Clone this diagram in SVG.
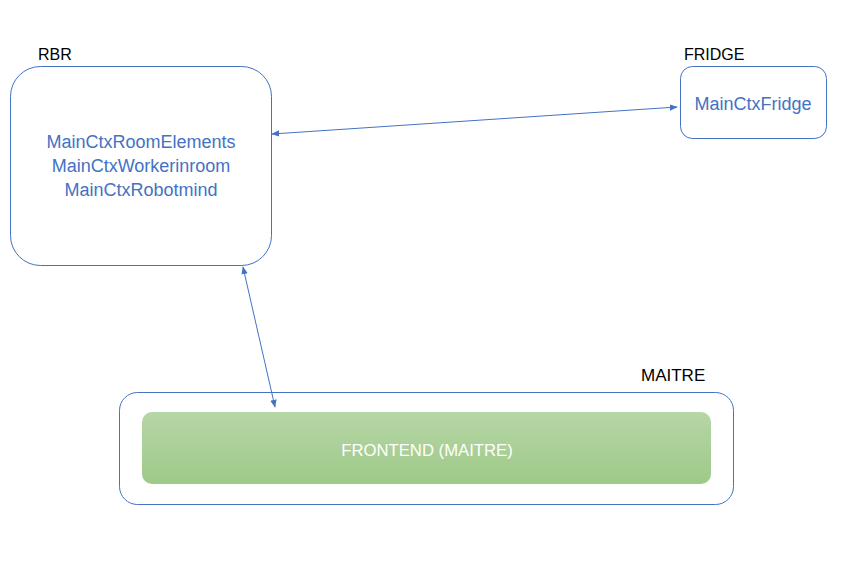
<svg xmlns="http://www.w3.org/2000/svg" width="866" height="563" viewBox="0 0 866 563">
<style>
.box{fill:#fff;stroke:#4472c4;stroke-width:1}
.lbl{font-family:"Liberation Sans",Arial,sans-serif;font-size:16px;fill:#000}
.ctx{font-family:"Liberation Sans",Arial,sans-serif;font-size:18px;fill:#4472c4;text-anchor:middle}
.conn{stroke:#4472c4;stroke-width:1;fill:none;marker-start:url(#ah);marker-end:url(#ah)}
</style>
<defs>
<marker id="ah" viewBox="0 0 10 10" refX="9" refY="5" markerWidth="8" markerHeight="8" orient="auto-start-reverse" markerUnits="userSpaceOnUse">
<path d="M0,1 L10,5 L0,9 Z" fill="#4472c4"/>
</marker>
<linearGradient id="g" x1="0" y1="0" x2="0" y2="1">
<stop offset="0" stop-color="#b6d6a6"/>
<stop offset="1" stop-color="#9ec988"/>
</linearGradient>
</defs>
<rect width="866" height="563" fill="#fff"/>
<g id="rbr">
<text class="lbl" x="38" y="60">RBR</text>
<rect class="box" x="10.5" y="66.5" width="261" height="199" rx="30"/>
<text class="ctx" x="141" y="148">MainCtxRoomElements</text>
<text class="ctx" x="141" y="172">MainCtxWorkerinroom</text>
<text class="ctx" x="141" y="196">MainCtxRobotmind</text>
</g>
<g id="fridge">
<text class="lbl" x="684" y="60">FRIDGE</text>
<rect class="box" x="680.5" y="66.5" width="146" height="72" rx="12"/>
<text class="ctx" x="753" y="110">MainCtxFridge</text>
</g>
<g id="maitre">
<text class="lbl" x="641" y="381" style="font-size:17px">MAITRE</text>
<rect class="box" x="119.5" y="392.5" width="614" height="112" rx="18"/>
<rect x="142" y="412" width="569" height="72" rx="10" fill="url(#g)"/>
<text x="427" y="456" font-family="Liberation Sans,Arial,sans-serif" font-size="16.7" fill="#fff" text-anchor="middle">FRONTEND (MAITRE)</text>
</g>
<g id="connectors">
<line class="conn" x1="272" y1="134" x2="677" y2="107"/>
<line class="conn" x1="243" y1="267" x2="275" y2="407"/>
</g>
</svg>
